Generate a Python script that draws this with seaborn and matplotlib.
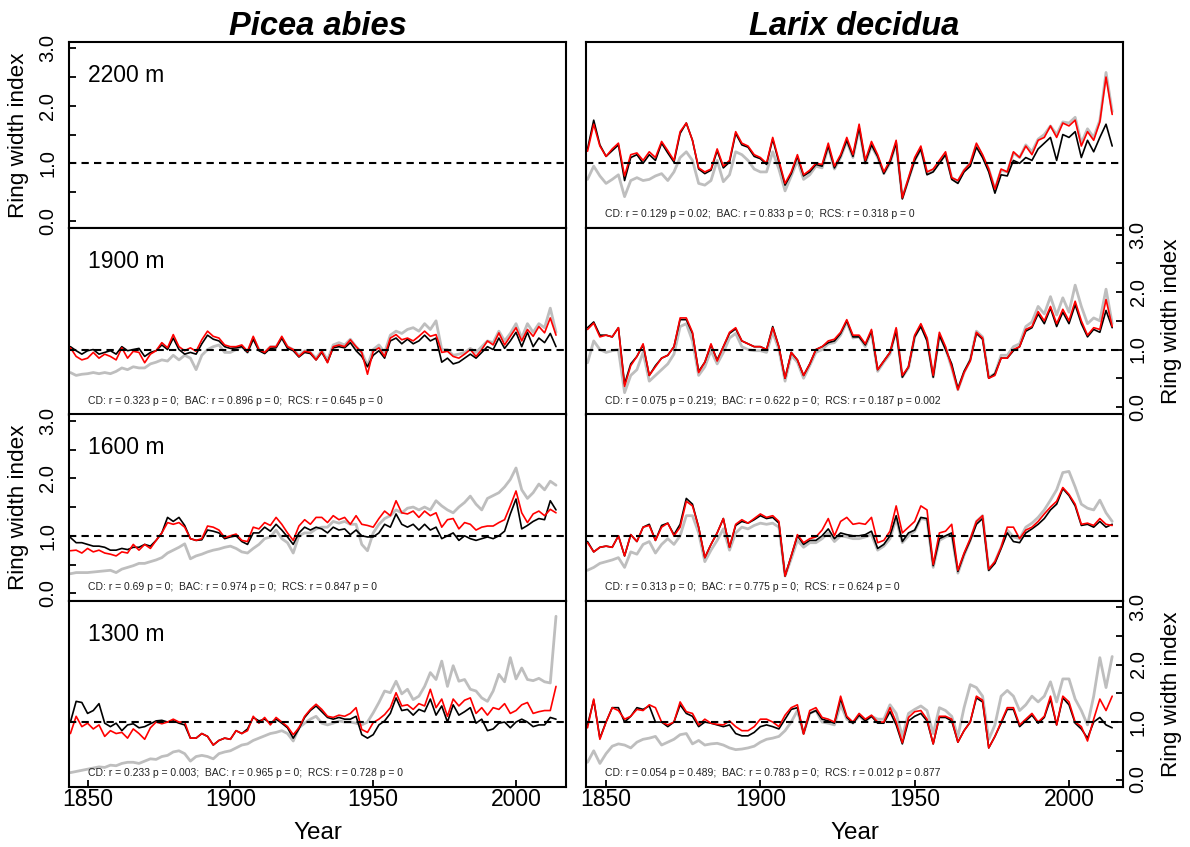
import numpy as np
import pandas as pd
import matplotlib
matplotlib.use("Agg")
import matplotlib.pyplot as plt
import seaborn as sns

# Ring width chronologies, values every second year 1844-2014
YEARS = np.arange(1844, 2015, 2)

# ---- Larix decidua ----
larix_2200_bac = [1.21, 1.68, 1.30, 1.12, 1.25, 1.35, 0.78, 1.15, 1.18, 1.05,
                  1.20, 1.10, 1.38, 1.22, 1.05, 1.55, 1.70, 1.40, 0.92, 0.85,
                  0.90, 1.25, 0.95, 1.05, 1.55, 1.35, 1.30, 1.15, 1.10, 1.00,
                  1.45, 1.05, 0.65, 0.85, 1.15, 0.80, 0.88, 1.00, 0.98, 1.35,
                  0.95, 1.15, 1.45, 1.15, 1.68, 1.05, 1.38, 1.15, 0.85, 1.05,
                  1.40, 0.40, 0.75, 1.10, 1.30, 0.85, 0.90, 1.05, 1.20, 0.75,
                  0.70, 0.88, 1.00, 1.35, 1.15, 0.90, 0.55, 0.90, 0.85, 1.20,
                  1.10, 1.30, 1.15, 1.40, 1.45, 1.65, 1.45, 1.70, 1.65, 1.75,
                  1.30, 1.55, 1.40, 1.72, 2.50, 1.85]
larix_2200_cd = [1.25, 1.75, 1.32, 1.12, 1.22, 1.32, 0.70, 1.10, 1.15, 1.00,
                 1.15, 1.05, 1.35, 1.18, 1.02, 1.52, 1.70, 1.40, 0.90, 0.82,
                 0.88, 1.22, 0.92, 1.02, 1.52, 1.32, 1.28, 1.12, 1.08, 0.98,
                 1.42, 1.02, 0.62, 0.82, 1.12, 0.78, 0.85, 0.98, 0.95, 1.30,
                 0.92, 1.12, 1.40, 1.12, 1.62, 1.02, 1.32, 1.12, 0.82, 1.02,
                 1.35, 0.38, 0.72, 1.05, 1.25, 0.80, 0.85, 1.00, 1.15, 0.72,
                 0.65, 0.85, 0.95, 1.28, 1.10, 0.85, 0.48, 0.80, 0.78, 1.05,
                 1.00, 1.10, 1.05, 1.25, 1.35, 1.45, 1.05, 1.50, 1.45, 1.55,
                 1.10, 1.40, 1.20, 1.45, 1.68, 1.30]
larix_2200_rcs = [0.72, 0.95, 0.78, 0.65, 0.72, 0.80, 0.42, 0.70, 0.75, 0.70,
                  0.72, 0.78, 0.82, 0.70, 0.85, 1.10, 1.20, 1.05, 0.65, 0.62,
                  0.70, 1.05, 0.68, 0.80, 1.20, 1.15, 1.05, 0.90, 0.85, 0.85,
                  1.20, 0.90, 0.52, 0.78, 1.05, 0.72, 0.80, 0.95, 0.92, 1.28,
                  0.90, 1.10, 1.38, 1.10, 1.60, 1.00, 1.30, 1.10, 0.82, 1.00,
                  1.35, 0.40, 0.72, 1.05, 1.25, 0.82, 0.88, 1.02, 1.15, 0.75,
                  0.68, 0.88, 1.00, 1.32, 1.12, 0.90, 0.55, 0.88, 0.85, 1.18,
                  1.10, 1.32, 1.20, 1.42, 1.50, 1.65, 1.50, 1.72, 1.70, 1.80,
                  1.35, 1.60, 1.45, 1.75, 2.58, 1.90]

larix_1900_bac = [1.35, 1.46, 1.22, 1.25, 1.22, 1.38, 0.36, 0.72, 0.88, 1.10,
                  0.55, 0.70, 0.85, 0.90, 1.05, 1.55, 1.55, 1.30, 0.60, 0.78,
                  1.10, 0.80, 1.05, 1.30, 1.38, 1.15, 1.10, 1.05, 1.05, 1.00,
                  1.38, 1.05, 0.50, 0.95, 0.82, 0.55, 0.75, 1.00, 1.05, 1.15,
                  1.18, 1.30, 1.52, 1.25, 1.25, 1.10, 1.35, 0.65, 0.80, 0.95,
                  1.38, 0.55, 0.70, 1.25, 1.45, 1.20, 0.55, 1.30, 1.05, 0.70,
                  0.30, 0.60, 0.80, 1.30, 1.20, 0.50, 0.55, 0.85, 0.85, 1.00,
                  1.05, 1.35, 1.40, 1.66, 1.50, 1.75, 1.45, 1.70, 1.50, 1.84,
                  1.50, 1.25, 1.38, 1.35, 1.87, 1.40]
larix_1900_cd = [1.38, 1.48, 1.25, 1.25, 1.22, 1.38, 0.40, 0.75, 0.88, 1.08,
                 0.55, 0.72, 0.85, 0.90, 1.05, 1.52, 1.52, 1.28, 0.62, 0.78,
                 1.08, 0.82, 1.05, 1.28, 1.36, 1.15, 1.10, 1.05, 1.05, 1.00,
                 1.40, 1.05, 0.50, 0.95, 0.82, 0.55, 0.75, 1.00, 1.05, 1.12,
                 1.15, 1.28, 1.50, 1.22, 1.22, 1.08, 1.32, 0.65, 0.80, 0.95,
                 1.32, 0.52, 0.70, 1.22, 1.40, 1.15, 0.52, 1.25, 1.00, 0.75,
                 0.32, 0.62, 0.82, 1.28, 1.18, 0.50, 0.58, 0.85, 0.85, 0.98,
                 1.05, 1.32, 1.38, 1.62, 1.45, 1.72, 1.40, 1.65, 1.45, 1.78,
                 1.45, 1.22, 1.35, 1.30, 1.68, 1.38]
larix_1900_rcs = [0.77, 1.15, 1.00, 0.95, 0.98, 1.00, 0.25, 0.55, 0.65, 0.95,
                  0.45, 0.55, 0.65, 0.75, 0.92, 1.40, 1.45, 1.15, 0.55, 0.70,
                  0.98, 0.75, 0.95, 1.20, 1.28, 1.05, 1.00, 0.98, 0.98, 0.95,
                  1.30, 1.00, 0.45, 0.90, 0.78, 0.50, 0.72, 0.95, 1.00, 1.10,
                  1.12, 1.25, 1.48, 1.20, 1.22, 1.05, 1.30, 0.62, 0.78, 0.92,
                  1.35, 0.52, 0.68, 1.22, 1.42, 1.18, 0.52, 1.25, 1.02, 0.68,
                  0.30, 0.60, 0.82, 1.32, 1.22, 0.52, 0.58, 0.90, 0.90, 1.05,
                  1.10, 1.40, 1.48, 1.75, 1.62, 1.92, 1.60, 1.90, 1.65, 2.12,
                  1.75, 1.45, 1.55, 1.50, 2.05, 1.45]

larix_1600_bac = [0.88, 0.72, 0.80, 0.82, 0.80, 1.00, 0.65, 1.02, 0.90, 1.15,
                  1.18, 0.92, 1.15, 1.22, 1.00, 1.15, 1.60, 1.52, 1.15, 0.62,
                  0.85, 1.05, 1.30, 0.80, 1.20, 1.28, 1.22, 1.30, 1.38, 1.32,
                  1.35, 1.25, 0.30, 0.65, 1.02, 0.88, 0.95, 0.98, 1.10, 1.30,
                  1.00, 1.25, 1.32, 1.20, 1.22, 1.20, 1.32, 0.88, 0.92, 1.08,
                  1.52, 1.05, 1.15, 1.25, 1.52, 1.45, 0.50, 1.05, 1.08, 1.20,
                  0.40, 0.70, 0.95, 1.25, 1.35, 0.42, 0.55, 0.80, 1.15, 1.15,
                  0.95, 1.10, 1.15, 1.25, 1.38, 1.50, 1.60, 1.84, 1.72, 1.55,
                  1.20, 1.22, 1.18, 1.30, 1.20, 1.18]
larix_1600_cd = [0.90, 0.72, 0.80, 0.82, 0.80, 1.00, 0.65, 1.02, 0.90, 1.15,
                 1.20, 0.92, 1.18, 1.22, 1.02, 1.20, 1.65, 1.55, 1.15, 0.62,
                 0.85, 1.05, 1.30, 0.80, 1.18, 1.25, 1.22, 1.28, 1.35, 1.30,
                 1.32, 1.22, 0.30, 0.65, 1.00, 0.85, 0.92, 0.92, 1.00, 1.12,
                 0.95, 1.05, 1.02, 1.00, 1.00, 1.02, 1.08, 0.78, 0.85, 1.00,
                 1.35, 0.90, 1.05, 1.10, 1.32, 1.30, 0.48, 0.95, 1.00, 1.05,
                 0.38, 0.68, 0.92, 1.20, 1.30, 0.40, 0.52, 0.78, 1.05, 0.90,
                 0.88, 1.05, 1.12, 1.20, 1.30, 1.45, 1.55, 1.82, 1.70, 1.52,
                 1.18, 1.20, 1.15, 1.25, 1.15, 1.20]
larix_1600_rcs = [0.40, 0.45, 0.52, 0.55, 0.58, 0.62, 0.45, 0.72, 0.68, 0.85,
                  0.90, 0.70, 0.85, 0.95, 0.85, 1.00, 1.35, 1.35, 1.05, 0.55,
                  0.75, 0.92, 1.12, 0.75, 1.05, 1.15, 1.12, 1.18, 1.22, 1.20,
                  1.22, 1.15, 0.30, 0.60, 0.92, 0.80, 0.88, 0.88, 0.95, 1.05,
                  0.90, 1.00, 0.98, 0.95, 0.95, 0.98, 1.02, 0.75, 0.82, 0.95,
                  1.30, 0.88, 1.00, 1.08, 1.30, 1.28, 0.45, 0.92, 0.98, 1.02,
                  0.35, 0.66, 0.92, 1.25, 1.35, 0.40, 0.55, 0.80, 1.10, 0.98,
                  0.95, 1.15, 1.22, 1.32, 1.45, 1.62, 1.80, 2.10, 2.12, 1.85,
                  1.55, 1.48, 1.45, 1.62, 1.40, 1.25]

larix_1300_bac = [0.90, 1.40, 0.70, 1.00, 1.25, 1.20, 1.05, 1.10, 1.22, 1.20,
                  1.30, 1.25, 1.00, 0.95, 1.00, 1.35, 1.18, 1.15, 0.95, 1.05,
                  0.98, 0.96, 0.95, 1.02, 0.92, 0.85, 0.85, 0.92, 1.05, 1.05,
                  1.00, 0.92, 1.12, 1.25, 1.30, 0.79, 1.20, 1.25, 1.08, 1.05,
                  1.00, 1.45, 1.10, 1.00, 1.15, 1.05, 1.12, 1.00, 1.00, 1.25,
                  1.00, 0.64, 1.08, 1.18, 1.20, 1.05, 0.62, 1.10, 1.10, 1.05,
                  0.65, 0.85, 1.00, 1.45, 1.38, 0.55, 0.75, 1.00, 1.25, 1.25,
                  0.95, 1.05, 1.15, 1.00, 1.10, 1.45, 0.95, 1.45, 1.35, 1.00,
                  0.92, 0.67, 1.05, 1.40, 1.20, 1.45]
larix_1300_cd = [0.95, 1.38, 0.72, 1.00, 1.25, 1.25, 1.00, 1.10, 1.25, 1.22,
                 1.28, 1.00, 1.00, 0.92, 1.00, 1.30, 1.15, 1.10, 0.92, 1.00,
                 0.98, 0.95, 0.92, 0.95, 0.80, 0.76, 0.76, 0.82, 0.92, 0.95,
                 0.92, 0.88, 1.05, 1.22, 1.25, 0.80, 1.15, 1.20, 1.05, 1.02,
                 0.98, 1.40, 1.08, 0.98, 1.12, 1.02, 1.10, 0.98, 0.98, 1.18,
                 0.95, 0.62, 1.02, 1.10, 1.15, 1.02, 0.62, 1.08, 1.08, 1.02,
                 0.65, 0.85, 1.00, 1.42, 1.35, 0.55, 0.75, 0.98, 1.22, 1.22,
                 0.92, 1.02, 1.12, 0.98, 1.08, 1.40, 0.95, 1.42, 1.30, 0.98,
                 0.88, 0.72, 1.00, 1.08, 0.95, 0.90]
larix_1300_rcs = [0.30, 0.50, 0.28, 0.45, 0.58, 0.62, 0.60, 0.55, 0.65, 0.70,
                  0.72, 0.75, 0.60, 0.65, 0.70, 0.78, 0.80, 0.62, 0.68, 0.60,
                  0.62, 0.63, 0.60, 0.55, 0.52, 0.53, 0.55, 0.58, 0.65, 0.70,
                  0.72, 0.75, 0.85, 1.00, 1.20, 0.80, 1.15, 1.20, 1.00, 0.98,
                  0.95, 1.30, 1.05, 0.98, 1.10, 1.02, 1.10, 1.05, 1.05, 1.30,
                  1.15, 0.75, 1.15, 1.22, 1.28, 1.20, 0.80, 1.25, 1.20, 1.10,
                  0.75, 1.25, 1.65, 1.60, 1.45, 0.70, 0.95, 1.45, 1.55, 1.45,
                  1.20, 1.30, 1.45, 1.35, 1.45, 1.70, 1.35, 1.75, 1.75, 1.40,
                  1.20, 0.95, 1.45, 2.12, 1.60, 2.14]

# ---- Picea abies ----
picea_1900_bac = [1.03, 0.88, 0.82, 0.85, 0.95, 0.85, 0.92, 0.88, 0.82, 1.03,
                  0.85, 0.97, 0.95, 0.77, 0.92, 0.98, 1.12, 1.03, 1.26, 1.05,
                  0.98, 1.03, 0.97, 1.17, 1.32, 1.23, 1.20, 1.08, 1.05, 1.05,
                  1.08, 0.97, 1.23, 1.00, 0.95, 1.05, 1.05, 1.23, 1.05, 1.00,
                  0.88, 0.97, 0.95, 0.82, 0.97, 0.77, 1.05, 1.08, 1.05, 1.17,
                  1.05, 0.95, 0.57, 0.97, 1.03, 0.88, 1.20, 1.26, 1.17, 1.20,
                  1.15, 1.23, 1.32, 1.23, 1.26, 0.95, 0.97, 0.88, 0.85, 0.92,
                  1.00, 0.88, 1.00, 1.15, 1.08, 1.29, 1.08, 1.23, 1.38, 1.15,
                  1.35, 1.23, 1.40, 1.29, 1.55, 1.25]
picea_1900_cd = [1.05, 0.98, 0.92, 0.98, 1.00, 0.92, 0.95, 0.98, 0.92, 1.05,
                 0.98, 1.00, 1.02, 0.88, 0.95, 0.98, 1.08, 1.00, 1.20, 1.00,
                 0.92, 0.95, 0.92, 1.10, 1.25, 1.18, 1.15, 1.05, 1.02, 1.03,
                 1.05, 0.95, 1.18, 0.98, 0.93, 1.02, 1.03, 1.20, 1.02, 0.98,
                 0.87, 0.95, 0.93, 0.82, 0.95, 0.78, 1.03, 1.05, 1.03, 1.12,
                 0.98, 0.88, 0.70, 0.90, 0.98, 0.85, 1.15, 1.20, 1.10, 1.18,
                 1.10, 1.15, 1.25, 1.15, 1.20, 0.78, 0.85, 0.75, 0.78, 0.85,
                 0.92, 0.85, 0.95, 1.05, 1.00, 1.20, 1.02, 1.15, 1.30, 1.05,
                 1.30, 1.05, 1.20, 1.12, 1.28, 1.05]
picea_1900_rcs = [0.60, 0.55, 0.57, 0.58, 0.60, 0.58, 0.60, 0.58, 0.62, 0.68,
                  0.65, 0.70, 0.68, 0.68, 0.75, 0.78, 0.82, 0.80, 0.90, 0.82,
                  0.90, 0.85, 0.65, 0.90, 1.00, 1.05, 1.08, 0.95, 0.95, 1.00,
                  1.05, 0.95, 1.20, 1.00, 0.95, 1.05, 1.05, 1.20, 1.05, 1.00,
                  0.90, 0.98, 0.95, 0.85, 0.98, 0.82, 1.08, 1.12, 1.08, 1.18,
                  1.05, 0.95, 0.72, 1.00, 1.08, 0.95, 1.25, 1.32, 1.28, 1.35,
                  1.38, 1.32, 1.45, 1.35, 1.50, 1.00, 1.00, 0.90, 0.92, 0.95,
                  1.02, 0.95, 1.05, 1.15, 1.12, 1.32, 1.15, 1.28, 1.45, 1.20,
                  1.45, 1.30, 1.45, 1.38, 1.72, 1.30]

picea_1600_bac = [0.74, 0.75, 0.70, 0.78, 0.72, 0.75, 0.70, 0.68, 0.65, 0.72,
                  0.70, 0.85, 0.75, 0.85, 0.78, 0.92, 1.05, 1.23, 1.20, 1.23,
                  1.15, 0.95, 0.92, 0.95, 1.17, 1.15, 1.10, 0.97, 1.00, 1.03,
                  0.92, 0.90, 1.15, 1.12, 1.23, 1.18, 1.32, 1.20, 1.05, 0.92,
                  1.17, 1.28, 1.20, 1.32, 1.32, 1.23, 1.35, 1.28, 1.32, 1.20,
                  1.35, 1.20, 1.18, 1.15, 1.30, 1.43, 1.35, 1.61, 1.40, 1.38,
                  1.43, 1.32, 1.43, 1.35, 1.40, 1.15, 1.28, 1.30, 1.12, 1.23,
                  1.20, 1.10, 1.15, 1.17, 1.17, 1.23, 1.28, 1.52, 1.78, 1.40,
                  1.23, 1.38, 1.43, 1.35, 1.46, 1.40]
picea_1600_cd = [0.97, 0.88, 0.88, 0.85, 0.82, 0.82, 0.80, 0.75, 0.75, 0.78,
                 0.76, 0.80, 0.80, 0.85, 0.82, 0.92, 1.05, 1.32, 1.25, 1.32,
                 1.18, 0.95, 0.92, 0.93, 1.10, 1.08, 1.05, 0.95, 0.98, 1.00,
                 0.90, 0.85, 1.05, 1.05, 1.15, 1.08, 1.20, 1.10, 0.98, 0.85,
                 1.05, 1.15, 1.10, 1.15, 1.12, 1.05, 1.15, 1.10, 1.12, 1.02,
                 1.10, 1.00, 0.98, 0.98, 1.05, 1.20, 1.15, 1.38, 1.20, 1.15,
                 1.20, 1.10, 1.20, 1.10, 1.15, 0.95, 1.00, 1.05, 0.92, 1.00,
                 0.95, 0.92, 0.95, 0.98, 0.95, 1.00, 1.08, 1.38, 1.64, 1.12,
                 1.18, 1.25, 1.30, 1.28, 1.61, 1.45]
picea_1600_rcs = [0.34, 0.36, 0.36, 0.36, 0.37, 0.38, 0.39, 0.40, 0.36, 0.42,
                  0.45, 0.48, 0.52, 0.52, 0.55, 0.58, 0.62, 0.70, 0.75, 0.80,
                  0.86, 0.60, 0.65, 0.68, 0.72, 0.75, 0.77, 0.80, 0.82, 0.78,
                  0.72, 0.70, 0.78, 0.85, 0.95, 0.98, 1.10, 0.95, 0.88, 0.70,
                  1.00, 1.05, 1.05, 1.12, 1.15, 1.15, 1.25, 1.22, 1.25, 1.20,
                  1.20, 0.85, 0.74, 1.05, 1.20, 1.30, 1.35, 1.45, 1.40, 1.48,
                  1.50, 1.45, 1.50, 1.45, 1.61, 1.52, 1.45, 1.40, 1.50, 1.58,
                  1.69, 1.55, 1.45, 1.65, 1.70, 1.75, 1.85, 1.98, 2.18, 1.80,
                  1.65, 1.75, 1.90, 1.80, 1.95, 1.88]

picea_1300_bac = [0.80, 1.10, 0.92, 0.98, 0.88, 0.95, 0.75, 0.85, 0.80, 0.82,
                  0.72, 0.88, 0.80, 0.70, 0.90, 1.00, 0.97, 1.00, 1.05, 1.00,
                  1.00, 0.72, 0.72, 0.80, 0.75, 0.60, 0.68, 0.72, 0.70, 0.85,
                  0.80, 0.85, 1.10, 0.98, 1.08, 0.95, 1.08, 1.00, 0.92, 0.78,
                  0.90, 1.10, 1.22, 1.31, 1.22, 1.10, 1.08, 1.12, 1.10, 1.15,
                  1.25, 0.87, 0.82, 0.99, 1.05, 1.13, 1.25, 1.51, 1.28, 1.30,
                  1.22, 1.32, 1.28, 1.57, 1.25, 1.40, 1.10, 1.40, 1.28, 1.38,
                  1.42, 1.15, 1.25, 1.12, 1.25, 1.22, 1.32, 1.15, 1.20, 1.30,
                  1.34, 1.15, 1.18, 1.20, 1.20, 1.62]
picea_1300_cd = [1.00, 1.36, 1.34, 1.15, 1.20, 1.32, 0.98, 0.92, 0.98, 0.85,
                 0.95, 0.97, 0.90, 0.92, 0.97, 1.02, 1.03, 1.00, 1.02, 0.98,
                 0.95, 0.72, 0.72, 0.80, 0.75, 0.60, 0.68, 0.72, 0.70, 0.85,
                 0.80, 0.88, 1.08, 1.02, 1.05, 0.98, 1.05, 0.98, 0.90, 0.72,
                 0.88, 1.08, 1.20, 1.28, 1.18, 1.08, 1.05, 1.08, 1.05, 1.05,
                 1.10, 0.78, 0.72, 0.78, 0.95, 1.02, 1.15, 1.42, 1.20, 1.22,
                 1.12, 1.22, 1.18, 1.40, 1.12, 1.28, 1.00, 1.30, 1.12, 1.18,
                 1.25, 0.98, 1.05, 0.85, 0.88, 0.98, 1.00, 0.90, 1.00, 1.05,
                 1.00, 0.92, 0.95, 0.95, 1.08, 1.05]
picea_1300_rcs = [0.12, 0.14, 0.16, 0.18, 0.20, 0.22, 0.21, 0.25, 0.24, 0.28,
                  0.30, 0.30, 0.28, 0.32, 0.36, 0.35, 0.40, 0.42, 0.48, 0.50,
                  0.45, 0.32, 0.40, 0.42, 0.40, 0.36, 0.45, 0.48, 0.50, 0.55,
                  0.60, 0.62, 0.68, 0.72, 0.76, 0.80, 0.82, 0.85, 0.80, 0.67,
                  0.90, 0.98, 1.05, 1.10, 0.98, 0.95, 0.98, 1.02, 1.00, 1.00,
                  0.98, 0.95, 1.00, 1.16, 1.34, 1.54, 1.51, 1.71, 1.49, 1.57,
                  1.39, 1.45, 1.62, 1.86, 1.74, 2.06, 1.62, 1.98, 1.71, 1.74,
                  1.57, 1.54, 1.42, 1.36, 1.54, 1.83, 1.70, 2.12, 1.75, 1.94,
                  1.74, 1.72, 1.76, 1.70, 1.68, 2.84]

SPECIES = ["Picea abies", "Larix decidua"]
ELEVATIONS = ["2200 m", "1900 m", "1600 m", "1300 m"]

PICEA_STATS = [
    None,
    "CD: r = 0.323 p = 0;  BAC: r = 0.896 p = 0;  RCS: r = 0.645 p = 0",
    "CD: r = 0.69 p = 0;  BAC: r = 0.974 p = 0;  RCS: r = 0.847 p = 0",
    "CD: r = 0.233 p = 0.003;  BAC: r = 0.965 p = 0;  RCS: r = 0.728 p = 0",
]
LARIX_STATS = [
    "CD: r = 0.129 p = 0.02;  BAC: r = 0.833 p = 0;  RCS: r = 0.318 p = 0",
    "CD: r = 0.075 p = 0.219;  BAC: r = 0.622 p = 0;  RCS: r = 0.187 p = 0.002",
    "CD: r = 0.313 p = 0;  BAC: r = 0.775 p = 0;  RCS: r = 0.624 p = 0",
    "CD: r = 0.054 p = 0.489;  BAC: r = 0.783 p = 0;  RCS: r = 0.012 p = 0.877",
]

PANELS = {
    (0, 0): None,
    (0, 1): (picea_1900_rcs, picea_1900_cd, picea_1900_bac),
    (0, 2): (picea_1600_rcs, picea_1600_cd, picea_1600_bac),
    (0, 3): (picea_1300_rcs, picea_1300_cd, picea_1300_bac),
    (1, 0): (larix_2200_rcs, larix_2200_cd, larix_2200_bac),
    (1, 1): (larix_1900_rcs, larix_1900_cd, larix_1900_bac),
    (1, 2): (larix_1600_rcs, larix_1600_cd, larix_1600_bac),
    (1, 3): (larix_1300_rcs, larix_1300_cd, larix_1300_bac),
}
STATS = {0: PICEA_STATS, 1: LARIX_STATS}

# drawing order: RCS underneath, then CD, then BAC on top
SERIES_STYLE = [("RCS", "#BEBEBE", 2.0), ("CD", "black", 1.2), ("BAC", "#FF0000", 1.2)]

sns.set_style("ticks")
plt.rcParams["font.family"] = ["Liberation Sans", "DejaVu Sans"]
plt.rcParams["axes.edgecolor"] = "black"
plt.rcParams["axes.linewidth"] = 1.5
plt.rcParams["text.color"] = "black"
plt.rcParams["axes.labelcolor"] = "black"
plt.rcParams["xtick.color"] = "black"
plt.rcParams["ytick.color"] = "black"

W, H = 1190.0, 847.0
fig = plt.figure(figsize=(W / 100, H / 100), dpi=100)

COLS = [(69, 566), (586, 1123)]
TOP, BOTTOM = 42, 787
ROW_H = (BOTTOM - TOP) / 4
YTICKS = [0, 0.5, 1, 1.5, 2, 2.5, 3]
YTICKLABELS = ["0.0", "", "1.0", "", "2.0", "", "3.0"]
XTICKS = [1850, 1900, 1950, 2000]

for c in range(2):
    x0, x1 = COLS[c]
    width_px = x1 - x0
    for r in range(4):
        y_top = TOP + r * ROW_H
        ax = fig.add_axes([x0 / W, 1 - (y_top + ROW_H) / H, width_px / W, ROW_H / H])
        data = PANELS[(c, r)]
        if data is not None:
            df = pd.DataFrame({"Year": YEARS, "RCS": data[0], "CD": data[1], "BAC": data[2]})
            for name, color, lw in SERIES_STYLE:
                sns.lineplot(data=df, x="Year", y=name, color=color, linewidth=lw,
                             estimator=None, ax=ax)
        ax.axhline(1.0, color="black", lw=1.5, ls=(0, (3.5, 2.5)), zorder=5)

        ax.set_xlim(1843.5, 2017.5)
        ax.set_ylim(-0.13, 3.11)
        ax.set_xlabel("")
        ax.set_ylabel("")
        for sp in ax.spines.values():
            sp.set_visible(True)
            sp.set_linewidth(1.5)
            sp.set_color("black")

        # y axis alternates between left (Picea, rows 1 and 3) and right (Larix, rows 2 and 4)
        left_axis = (c == 0 and r % 2 == 0)
        right_axis = (c == 1 and r % 2 == 1)
        ax.set_yticks(YTICKS)
        ax.tick_params(axis="y", direction="in", length=5, width=1.3, labelsize=14.5,
                       left=left_axis, labelleft=left_axis,
                       right=right_axis, labelright=right_axis,
                       pad=8.6 if left_axis else 4)
        if left_axis or right_axis:
            ax.set_yticklabels(YTICKLABELS, rotation=90, va="center")
        if left_axis:
            ax.set_ylabel("Ring width index", fontsize=16.2)
            ax.yaxis.set_label_coords((19 - x0) / width_px, 0.5)
            ax.yaxis.label.set_va("center")
        if right_axis:
            ax.yaxis.set_label_position("right")
            ax.set_ylabel("Ring width index", fontsize=16.2)
            ax.yaxis.set_label_coords((1171 - x0) / width_px, 0.5)
            ax.yaxis.label.set_va("center")

        ax.set_xticks(XTICKS)
        if r == 3:
            ax.tick_params(axis="x", direction="in", length=5, width=1.3, labelsize=16.5,
                           bottom=True, top=False, labelbottom=True, pad=0.5)
            ax.set_xlabel("Year", fontsize=17.5)
            ax.xaxis.set_label_coords(0.5, -0.188)
        else:
            ax.tick_params(axis="x", bottom=False, top=False, labelbottom=False)

        if r == 0:
            ax.set_title(SPECIES[c], fontsize=23.5, fontweight="bold", fontstyle="italic",
                         pad=3, color="black")
        if c == 0:
            ax.text(19 / width_px, 1 - 40 / ROW_H, ELEVATIONS[r], fontsize=16.5,
                    va="baseline", ha="left", transform=ax.transAxes)
        stats = STATS[c][r]
        if stats:
            ax.text(19 / width_px, 0.075, stats, fontsize=7.5, va="center", ha="left",
                    color="#222222", transform=ax.transAxes)

fig.savefig("out.png", dpi=100)
